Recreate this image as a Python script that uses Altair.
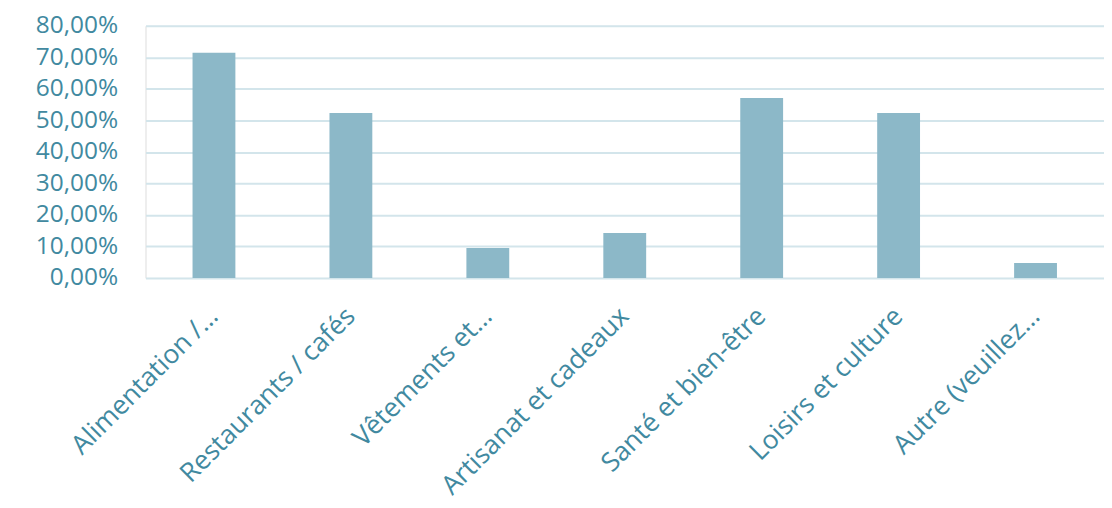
import altair as alt
import pandas as pd

categories = [
    "Alimentation /…",
    "Restaurants / cafés",
    "Vêtements et…",
    "Artisanat et cadeaux",
    "Santé et bien-être",
    "Loisirs et culture",
    "Autre (veuillez…",
]
values = [0.7143, 0.5238, 0.0952, 0.1429, 0.5714, 0.5238, 0.0476]
y_ticks = [0, 0.1, 0.2, 0.3, 0.4, 0.5, 0.6, 0.7, 0.8]

df = pd.DataFrame({"cat": categories, "val": values})

label_color = "#4189A0"
font = "Open Sans"

chart = (
    alt.Chart(df)
    .mark_bar(size=43, color="#8CB8C8")
    .encode(
        x=alt.X(
            "cat:N",
            sort=categories,
            scale=alt.Scale(paddingInner=0, paddingOuter=0),
            axis=alt.Axis(
                title=None,
                labelAngle=-45,
                labelAlign="right",
                labelBaseline="middle",
                labelFontSize=26.5,
                labelFont=font,
                labelColor=label_color,
                labelPadding=34,
                labelLimit=400,
                ticks=False,
                domain=False,
                grid=False,
            ),
        ),
        y=alt.Y(
            "val:Q",
            scale=alt.Scale(domain=[0, 0.8], nice=False),
            axis=alt.Axis(
                title=None,
                values=y_ticks,
                labelExpr="replace(format(datum.value, '.2%'), '.', ',')",
                labelFontSize=24.5,
                labelFont=font,
                labelColor=label_color,
                labelPadding=28,
                ticks=False,
                domain=False,
                grid=True,
                gridColor="#D3E5EB",
                gridWidth=2,
            ),
        ),
    )
    .properties(
        width=962,
        height=253,
        autosize=alt.AutoSizeParams(type="none"),
        padding={"left": 138, "top": 17, "right": 0, "bottom": 230},
    )
    .configure_view(stroke=None)
    .configure(background="white")
)

chart.save("out.html", embed_options={"renderer": "svg", "actions": False})
